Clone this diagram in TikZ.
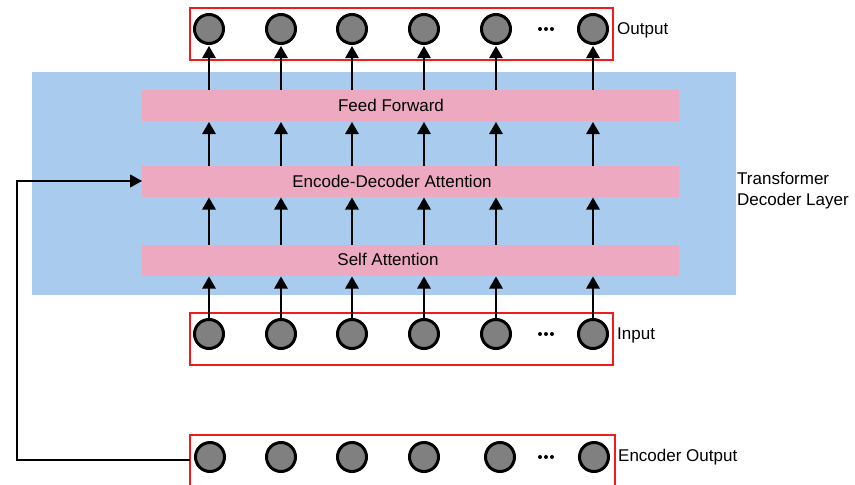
\documentclass[tikz,border=0pt]{standalone}
\usepackage{fontspec}
\setmainfont{Liberation Sans}
\usetikzlibrary{arrows.meta}
\definecolor{layerblue}{HTML}{A9CBEE}
\definecolor{blockpink}{HTML}{EDA9BF}
\definecolor{framered}{HTML}{F51A1A}
\definecolor{unitgray}{HTML}{808080}
\begin{document}
\begin{tikzpicture}[x=1pt,y=-1pt,
  txt/.style={font=\fontsize{17}{21}\selectfont, inner sep=0pt},
  unit/.style={circle, draw=black, line width=3pt, fill=unitgray,
    minimum size=29pt, inner sep=0pt},
  block/.style={fill=blockpink, minimum width=537pt, minimum height=31pt,
    inner sep=0pt, outer sep=0pt},
  rowframe/.style={draw=framered, line width=1.4pt, minimum width=423pt,
    inner sep=0pt, outer sep=0pt},
  flow/.style={line width=1.3pt, -{Triangle[width=13.5pt,length=12pt]}, shorten >=1pt},
  link/.style={line width=1.1pt, -{Triangle[width=13pt,length=12pt]}},
  dot/.style={circle, fill=black, minimum size=4pt, inner sep=0pt}
]
\useasboundingbox (0,0) rectangle (855,485);

% decoder layer background
\node[fill=layerblue, minimum width=704pt, minimum height=223pt,
  inner sep=0pt, outer sep=0pt] (layer) at (384,183.5) {};

% sub-layers
\node[block] (ff) at (410.5,105.5) {};
\node[txt] at (391,105) {Feed Forward};
\node[block] (ed) at (410.5,181) {};
\node[txt] at (392,181) {Encode-Decoder Attention};
\node[block] (sa) at (410.5,260) {};
\node[txt] at (388,259) {Self Attention};

% row frames
\node[rowframe, minimum height=52pt] (outframe) at (401.5,34) {};
\node[rowframe, minimum height=52pt] (inframe) at (401.5,339) {};
\node[rowframe, minimum height=60pt, minimum width=425pt] (encframe) at (402.5,465) {};

% token units
\foreach \i/\x in {1/209,2/281,3/352,4/424,5/496,6/593}{
  \node[unit] (out\i) at (\x,29) {};
  \node[unit] (in\i) at (\x,334) {};
}
\foreach \i/\x in {1/210,2/281,3/352,4/424,5/500,6/594}{
  \node[unit] (enc\i) at (\x,457) {};
}
\foreach \r/\y in {o/29,i/334,e/457}{
  \node[dot] (\r d1) at (540,\y) {};
  \node[dot] (\r d2) at (546,\y) {};
  \node[dot] (\r d3) at (552,\y) {};
}

% data flow through the layer
\foreach \i in {1,...,6}{
  \draw[flow] (in\i.north) -- (in\i.north |- sa.south);
  \draw[flow] (in\i.north |- sa.north) -- (in\i.north |- ed.south);
  \draw[flow] (in\i.north |- ed.north) -- (in\i.north |- ff.south);
  \draw[flow] (out\i.south |- ff.north) -- (out\i.south);
}

% encoder output feeding the cross attention
\coordinate (tap) at (190,460);
\coordinate (bend) at (17,460);
\draw[link] (tap) -- (bend) |- (ed.west);

% labels
\node[txt, anchor=west] (lout) at (617,30) {Output};
\node[txt, anchor=west] (lin) at (617,335) {Input};
\node[txt, anchor=west] (lenc) at (618,457) {Encoder Output};
\node[txt, anchor=west, align=left] (llayer) at (737,191) {Transformer\\Decoder Layer};
\end{tikzpicture}
\end{document}
